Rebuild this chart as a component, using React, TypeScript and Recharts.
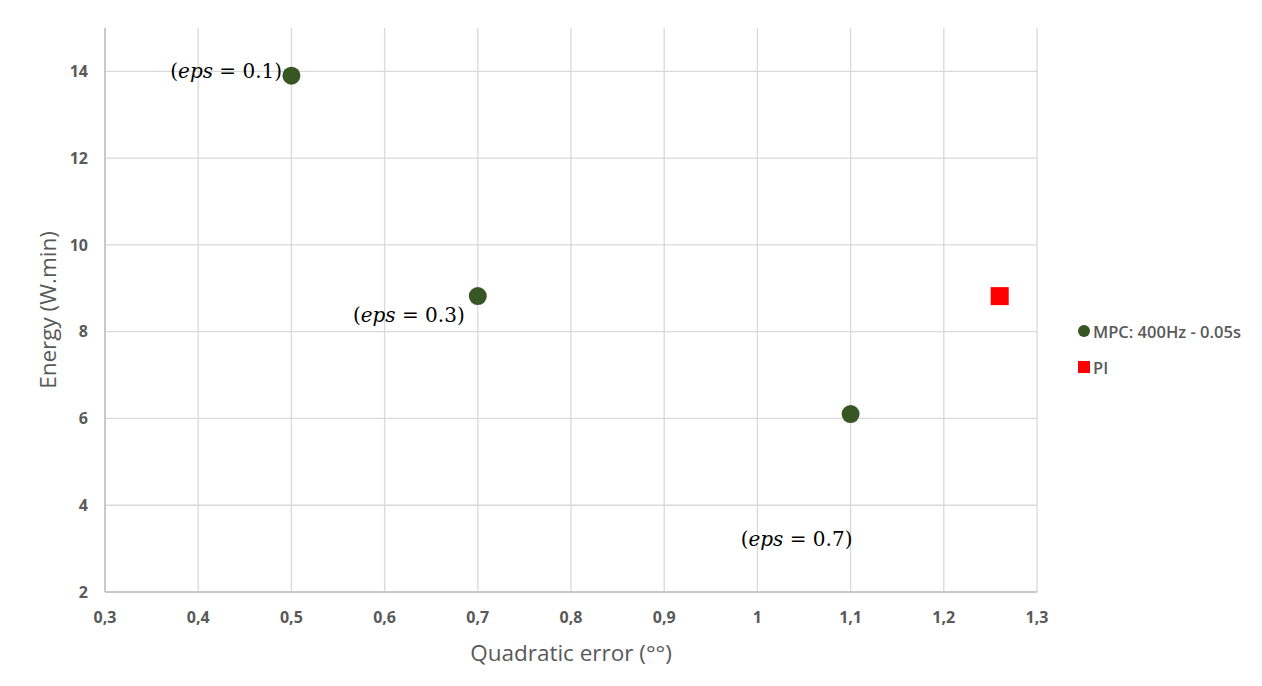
import React from 'react';
import { ScatterChart, Scatter, XAxis, YAxis, CartesianGrid, Legend, Label } from 'recharts';

const mpcErrors = [0.5, 0.7, 1.1];
const mpcEnergy = [13.9, 8.82, 6.1];
const piErrors = [1.26];
const piEnergy = [8.82];
const annotationEps = ['0.1', '0.3', '0.7'];
const annotationErrors = [0.43, 0.626, 1.042];
const annotationEnergy = [14.0, 8.39, 3.22];
const xTicks = [0.3, 0.4, 0.5, 0.6, 0.7, 0.8, 0.9, 1.0, 1.1, 1.2, 1.3];
const yTicks = [2, 4, 6, 8, 10, 12, 14];
const mpcName = 'MPC: 400Hz - 0.05s';
const piName = 'PI';

const mpcData = mpcErrors.map((x, i) => ({ x, y: mpcEnergy[i] }));
const piData = piErrors.map((x, i) => ({ x, y: piEnergy[i] }));
const annData = annotationErrors.map((x, i) => ({ x, y: annotationEnergy[i], eps: annotationEps[i] }));

const GREEN = '#375623';
const RED = '#ff0000';
const GRAY = '#595959';
const UI_FONT = '"Open Sans", "Liberation Sans", sans-serif';
const MATH_FONT = '"DejaVu Serif", "Liberation Serif", serif';

const fmt = (v: number) => String(Number(v.toFixed(1))).replace('.', ',');

const CircleShape = (props: any) => <circle cx={props.cx} cy={props.cy} r={9} fill={GREEN} />;
const SquareShape = (props: any) => (
  <rect x={props.cx - 9} y={props.cy - 9} width={18} height={18} fill={RED} />
);
const AnnShape = (props: any) => (
  <text
    x={props.cx}
    y={props.cy}
    textAnchor="middle"
    dominantBaseline="central"
    fontFamily={MATH_FONT}
    fontSize={20}
    fill="#000"
  >
    (<tspan fontStyle="italic">eps</tspan> = {props.payload.eps})
  </text>
);

const LegendContent = () => (
  <div style={{ fontFamily: UI_FONT, fontSize: 16.5, fontWeight: 600, color: GRAY }}>
    <div style={{ display: 'flex', alignItems: 'center', height: 22 }}>
      <svg width={14} height={14} style={{ marginRight: 2 }}>
        <circle cx={7} cy={7} r={6} fill={GREEN} />
      </svg>
      <span>{mpcName}</span>
    </div>
    <div style={{ display: 'flex', alignItems: 'center', height: 22, marginTop: 14 }}>
      <svg width={14} height={14} style={{ marginRight: 2 }}>
        <rect x={1} y={1} width={12} height={12} fill={RED} />
      </svg>
      <span>{piName}</span>
    </div>
  </div>
);

export default function App() {
  return (
    <div style={{ position: 'relative', marginLeft: -8, marginTop: -8, width: 1262, height: 686, background: '#fff', overflow: 'hidden' }}>
      <ScatterChart width={1262} height={686} margin={{ top: 28, right: 45, bottom: 34, left: 45 }}>
        <rect x={6} y={7} width={1300} height={720} fill="none" stroke="#cfcfcf" strokeWidth={2} />
        <CartesianGrid stroke="#d9d9d9" strokeWidth={1.3} horizontalValues={yTicks} verticalValues={xTicks} />
        <XAxis
          type="number"
          dataKey="x"
          domain={[0.3, 1.3]}
          ticks={xTicks}
          tickFormatter={fmt}
          tickLine={false}
          tickMargin={14}
          height={60}
          axisLine={{ stroke: '#bfbfbf', strokeWidth: 1.5 }}
          tick={{ fill: GRAY, fontSize: 16, fontWeight: 700, fontFamily: UI_FONT }}
          allowDataOverflow
        >
          <Label
            content={(p: any) => (
              <text
                x={p.viewBox.x + p.viewBox.width / 2}
                y={652}
                textAnchor="middle"
                dominantBaseline="central"
                fontFamily={UI_FONT}
                fontSize={22.5}
                fill={GRAY}
              >
                Quadratic error (°°)
              </text>
            )}
          />
        </XAxis>
        <YAxis
          type="number"
          dataKey="y"
          domain={[2, 15]}
          ticks={yTicks}
          tickLine={false}
          tickMargin={11}
          width={60}
          axisLine={{ stroke: '#bfbfbf', strokeWidth: 1.5 }}
          tick={{ fill: GRAY, fontSize: 16, fontWeight: 700, fontFamily: UI_FONT }}
          allowDataOverflow
        >
          <Label
            content={(p: any) => {
              const cy = p.viewBox.y + p.viewBox.height / 2;
              return (
                <text
                  x={47}
                  y={cy}
                  transform={`rotate(-90 47 ${cy})`}
                  textAnchor="middle"
                  dominantBaseline="central"
                  fontFamily={UI_FONT}
                  fontSize={22.5}
                  fill={GRAY}
                >
                  Energy (W.min)
                </text>
              );
            }}
          />
        </YAxis>
        <Legend
          layout="vertical"
          align="right"
          verticalAlign="middle"
          content={<LegendContent />}
          wrapperStyle={{ left: 1077, top: 320, width: 180 }}
        />
        <Scatter name={mpcName} data={mpcData} shape={CircleShape} isAnimationActive={false} />
        <Scatter name={piName} data={piData} shape={SquareShape} isAnimationActive={false} />
        <Scatter name="annotations" data={annData} shape={AnnShape} legendType="none" isAnimationActive={false} />
      </ScatterChart>
    </div>
  );
}
